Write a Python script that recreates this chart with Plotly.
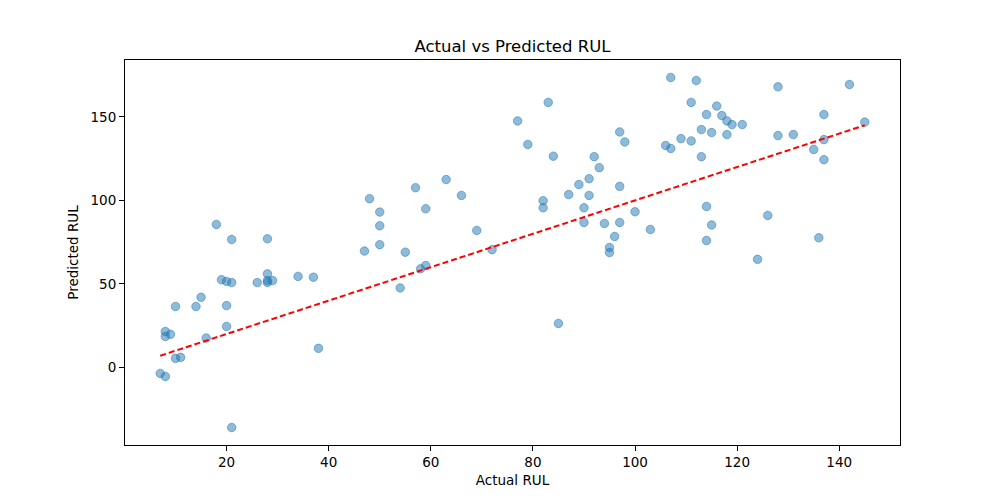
import plotly.graph_objects as go

actual = [7, 8, 8, 8, 9, 10, 10, 11, 14, 15, 16, 18, 19, 20, 20, 20, 21, 21, 21,
          26, 28, 28, 28, 28, 29, 34, 37, 38, 47, 48, 50, 50, 50, 54, 55, 57, 58,
          59, 59, 63, 66, 69, 72, 77, 79, 82, 82, 83, 84, 85, 87, 89, 90, 90, 91,
          91, 92, 93, 94, 95, 95, 96, 97, 97, 97, 98, 100, 103, 106, 107, 107,
          109, 111, 111, 112, 113, 113, 114, 114, 114, 115, 115, 116, 117, 118,
          118, 119, 121, 124, 126, 128, 128, 131, 135, 136, 137, 137, 137, 142, 145]
predicted = [-3.6, -5.4, 21.5, 18.5, 19.8, 36.5, 5.4, 6.0, 36.5, 42, 17.6, 85.6,
             52.5, 51.5, 37, 24.5, 76.6, 50.8, -36, 50.8, 77, 56, 52, 50.8, 52,
             54.5, 54, 11.4, 69.7, 101, 93, 84.8, 73.5, 47.6, 69, 107.6, 59, 95,
             61, 112.5, 103, 82, 70.5, 147.6, 133.5, 99.8, 95.6, 158.7, 126.5, 26.3,
             103.5, 109.5, 95.6, 86.8, 113, 103, 126.2, 119.6, 86.2, 71.8, 68.8,
             78.4, 141, 108.4, 86.8, 135, 93.2, 82.6, 132.9, 173.6, 131.1, 137,
             158.7, 135.6, 171.8, 126.2, 142.4, 151.4, 96.4, 76, 140.6, 85.3, 156.5,
             150.8, 147.6, 139.4, 145.4, 145.4, 64.7, 91, 168, 138.8, 139.4, 130.5,
             77.6, 151.4, 136.4, 124.4, 169.4, 146.9]

xmin, xmax = min(actual), max(actual)
ymin, ymax = min(predicted), max(predicted)
xpad = (xmax - xmin) * 0.05
ypad = (ymax - ymin) * 0.05

font = "DejaVu Sans"

fig = go.Figure()
fig.add_trace(go.Scatter(
    x=actual, y=predicted, mode="markers",
    marker=dict(size=8.5, color="rgba(31,119,180,0.5)",
                line=dict(width=1, color="rgba(31,119,180,0.5)")),
    showlegend=False, hoverinfo="x+y"))
fig.add_trace(go.Scatter(
    x=[xmin, xmax], y=[xmin, xmax], mode="lines",
    line=dict(color="red", width=2, dash="6px,3px"),
    showlegend=False))

axis_common = dict(
    showgrid=False, zeroline=False, showline=True, linecolor="black",
    linewidth=1, mirror=True, ticks="outside", ticklen=5, tickwidth=1,
    tickcolor="black", tickfont=dict(family=font, size=13.5, color="black"),
)

fig.update_layout(
    width=1000, height=500,
    margin=dict(l=117, r=108, t=52, b=63),
    paper_bgcolor="white", plot_bgcolor="white",
    title=dict(text="Actual vs Predicted RUL", x=0.5045, xanchor="center",
               y=0.924, yanchor="middle",
               font=dict(family=font, size=16.5, color="black")),
    xaxis=dict(range=[xmin - xpad, xmax + xpad], tickvals=[20, 40, 60, 80, 100, 120, 140],
               title=dict(text="Actual RUL", font=dict(family=font, size=13.5, color="black"),
                          standoff=6),
               **axis_common),
    yaxis=dict(range=[ymin - ypad, ymax + ypad], tickvals=[0, 50, 100, 150],
               title=dict(text="Predicted RUL", font=dict(family=font, size=13.5, color="black"),
                          standoff=8),
               **axis_common),
    font=dict(family=font),
)

fig.write_html("out.html")
